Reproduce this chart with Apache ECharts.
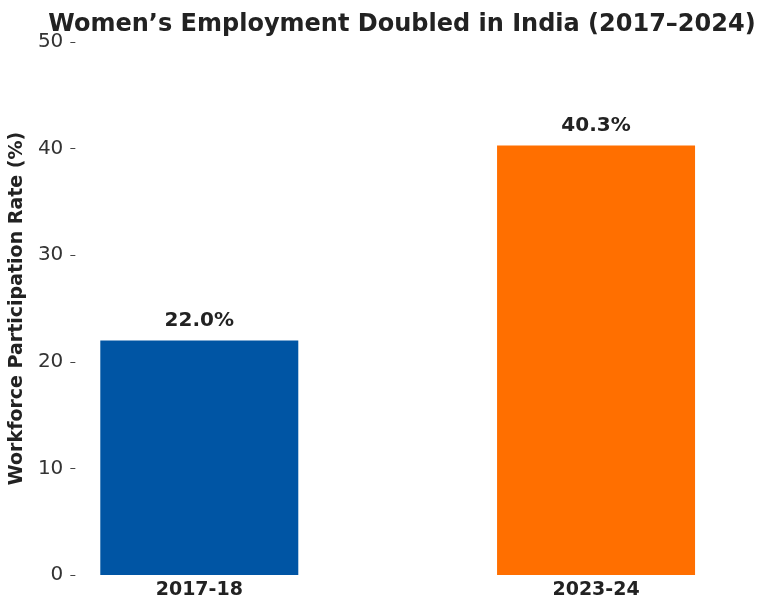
<!DOCTYPE html>
<html>
<head>
<meta charset="utf-8">
<script src="https://cdn.jsdelivr.net/npm/echarts@6/dist/echarts.min.js"></script>
<style>
  html, body { margin: 0; padding: 0; background: #fff; }
  #chart { width: 768px; height: 612px; }
</style>
</head>
<body>
<div id="chart"></div>
<script>
var categories = ["2017-18", "2023-24"];
var rates = [22.0, 40.3];
var barColors = ["#0055A4", "#FF6F00"];
var yTicks = [0, 10, 20, 30, 40, 50];

var font = "DejaVu Sans";
var ink = "#222222";

// bars sit on a value x-axis so they land at matplotlib-like positions
var barData = rates.map(function (v, i) {
  return { value: [i, v], itemStyle: { color: barColors[i] } };
});

var chart = echarts.init(document.getElementById("chart"));
chart.setOption({
  animation: false,
  title: {
    text: "Women\u2019s Employment Doubled in India (2017\u20132024)",
    left: 397, top: 8, textAlign: "center",
    textStyle: { fontFamily: font, fontWeight: "bold", fontSize: 24, color: ink }
  },
  grid: { left: 70, right: 43, top: 42, bottom: 37 },
  xAxis: {
    type: "value",
    min: -0.325, max: 1.325,
    splitLine: { show: false },
    axisLine: { show: false },
    axisTick: { show: true, inside: true, length: 7, customValues: [0, 1], lineStyle: { color: "#111", width: 1.2 } },
    axisLabel: {
      customValues: [0, 1],
      formatter: function (v) { return categories[Math.round(v)]; },
      fontFamily: font, fontWeight: "bold", fontSize: 19, color: ink, margin: 6
    }
  },
  yAxis: {
    type: "value",
    min: yTicks[0], max: yTicks[yTicks.length - 1], interval: 10,
    name: "Workforce Participation Rate (%)",
    nameLocation: "middle", nameGap: 40,
    nameTextStyle: { fontFamily: font, fontWeight: "bold", fontSize: 19, color: ink },
    splitLine: { show: false },
    axisLine: { show: false, onZero: false },
    axisTick: { show: true, inside: true, length: 5, lineStyle: { color: "#444" } },
    axisLabel: { fontFamily: font, fontSize: 20, color: "#333", margin: 7 }
  },
  series: [{
    type: "bar",
    data: barData,
    barWidth: 198,
    label: {
      show: true, position: "top", distance: 10,
      formatter: function (p) { return p.value[1].toFixed(1) + "%"; },
      fontFamily: font, fontWeight: "bold", fontSize: 20, color: ink
    }
  }]
});
</script>
</body>
</html>
